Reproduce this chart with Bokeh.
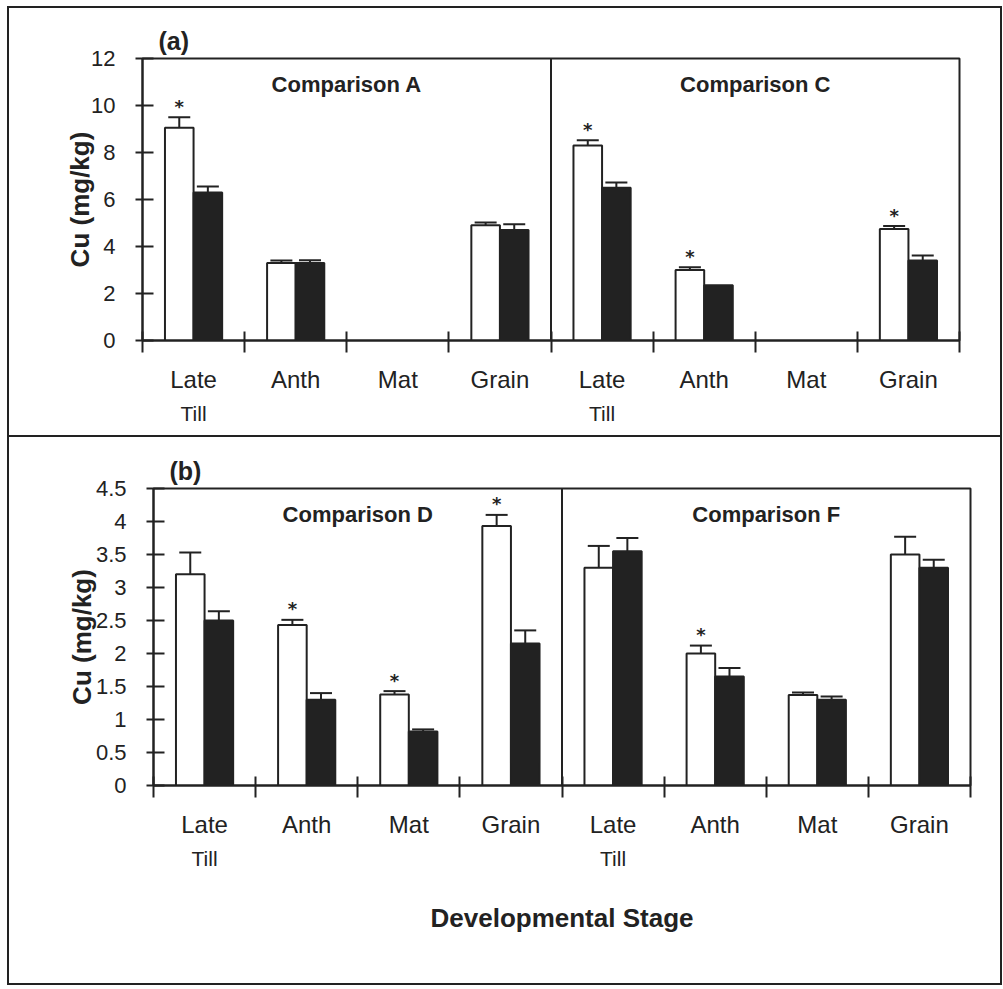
from bokeh.plotting import figure
from bokeh.models import (ColumnDataSource, FixedTicker, LinearAxis, Range1d,
                          Span, Whisker, TeeHead, Label)
from bokeh.layouts import column
from bokeh.embed import file_html
from bokeh.resources import INLINE
from bokeh.core.properties import value

# ---------------- data ----------------
stages = ["Late", "Anth", "Mat", "Grain"]
stage_sub = ["Till", "", "", ""]

# panel (a)
a_tag = "(a)"
a_comparisons = ["Comparison A", "Comparison C"]
a_white = [[9.05, 3.3, None, 4.9], [8.3, 3.0, None, 4.75]]
a_white_err = [[0.45, 0.1, None, 0.12], [0.22, 0.12, None, 0.12]]
a_black = [[6.3, 3.3, None, 4.7], [6.5, 2.35, None, 3.4]]
a_black_err = [[0.25, 0.12, None, 0.25], [0.22, 0.0, None, 0.22]]
a_star = [[True, False, False, False], [True, True, False, True]]
a_yticks = [0, 2, 4, 6, 8, 10, 12]
a_ylabels = ["0", "2", "4", "6", "8", "10", "12"]

# panel (b)
b_tag = "(b)"
b_comparisons = ["Comparison D", "Comparison F"]
b_white = [[3.2, 2.43, 1.38, 3.93], [3.3, 2.0, 1.37, 3.5]]
b_white_err = [[0.33, 0.08, 0.05, 0.17], [0.33, 0.12, 0.04, 0.27]]
b_black = [[2.5, 1.3, 0.82, 2.15], [3.55, 1.65, 1.3, 3.3]]
b_black_err = [[0.14, 0.1, 0.03, 0.2], [0.2, 0.13, 0.05, 0.12]]
b_star = [[False, True, True, True], [False, True, False, False]]
b_yticks = [0, 0.5, 1, 1.5, 2, 2.5, 3, 3.5, 4, 4.5]
b_ylabels = ["0", "0.5", "1", "1.5", "2", "2.5", "3", "3.5", "4", "4.5"]

y_title = "Cu (mg/kg)"
x_title = "Developmental Stage"

FONT = "Liberation Sans"
INK = "#222222"
BAR_W = 0.28
W = 991


def make_panel(tag, comps, white, white_err, black, black_err, stars,
               yticks, ylabels, height, borders, ylab_standoff, x_label=None):
    n_st = len(stages)
    n_cat = n_st * len(comps)
    y_max = yticks[-1]
    p = figure(width=W, height=height, output_backend="svg",
               toolbar_location=None, x_range=Range1d(0, n_cat),
               y_range=Range1d(0, y_max), title=tag,
               min_border_left=borders[0], min_border_right=borders[1],
               min_border_top=borders[2], min_border_bottom=borders[3])
    p.grid.visible = False
    p.background_fill_color = "white"
    p.border_fill_color = "white"
    p.outline_line_color = INK
    p.outline_line_width = 2

    p.title.align = "left"
    p.title.offset = 16
    p.title.standoff = 8
    p.title.text_font = FONT
    p.title.text_font_size = "25px"
    p.title.text_font_style = "bold"
    p.title.text_color = INK

    centers = [g * n_st + i + 0.5 for g in range(len(comps)) for i in range(n_st)]
    bounds = list(range(n_cat + 1))

    wx, wt, bx, bt = [], [], [], []
    ex, eu, el = [], [], []
    sx, sy = [], []
    for g in range(len(comps)):
        for i in range(n_st):
            c = g * n_st + i + 0.5
            w = white[g][i]
            b = black[g][i]
            if w is not None:
                wx.append(c - BAR_W / 2)
                wt.append(w)
                e = white_err[g][i] or 0
                if e > 0:
                    ex.append(c - BAR_W / 2); eu.append(w + e); el.append(w - e)
                if stars[g][i]:
                    sx.append(c - BAR_W / 2); sy.append(w + e)
            if b is not None:
                bx.append(c + BAR_W / 2)
                bt.append(b)
                e = black_err[g][i] or 0
                if e > 0:
                    ex.append(c + BAR_W / 2); eu.append(b + e); el.append(b - e)

    p.vbar(x=wx, top=wt, bottom=0, width=BAR_W, fill_color="white",
           line_color=INK, line_width=2)
    p.vbar(x=bx, top=bt, bottom=0, width=BAR_W, fill_color=INK,
           line_color=INK, line_width=2)

    esrc = ColumnDataSource(dict(x=ex, u=eu, l=el))
    wh = Whisker(source=esrc, base="x", upper="u", lower="l",
                 line_color=INK, line_width=2,
                 upper_head=TeeHead(size=22, line_width=2, line_color=INK),
                 lower_head=TeeHead(size=22, line_width=2, line_color=INK))
    p.add_layout(wh)

    p.text(x=sx, y=sy, text=["*"] * len(sx), text_font=value("DejaVu Sans"),
           text_font_size="18px", text_font_style="bold", text_color=INK,
           text_align="center", text_baseline="alphabetic", y_offset=-11)

    for g in range(1, len(comps)):
        p.add_layout(Span(location=g * n_st, dimension="height",
                          line_color=INK, line_width=2))

    for g, name in enumerate(comps):
        p.add_layout(Label(x=g * n_st + n_st / 2, y=y_max, y_offset=-26,
                           text=name, text_align="center",
                           text_baseline="middle", text_font=FONT,
                           text_font_size="22px", text_font_style="bold",
                           text_color=INK))

    ya = p.yaxis[0]
    ya.ticker = FixedTicker(ticks=yticks)
    ya.major_label_overrides = {t: l for t, l in zip(yticks, ylabels)}
    ya.major_tick_in = 11
    ya.major_tick_out = 7
    ya.major_tick_line_width = 2
    ya.major_tick_line_color = INK
    ya.minor_tick_line_color = None
    ya.axis_line_width = 2
    ya.axis_line_color = INK
    ya.major_label_text_font = FONT
    ya.major_label_text_font_size = "22px"
    ya.major_label_text_color = INK
    ya.major_label_standoff = 20
    ya.axis_label = y_title
    ya.axis_label_text_font = FONT
    ya.axis_label_text_font_size = "26px"
    ya.axis_label_text_font_style = "bold"
    ya.axis_label_text_color = INK
    ya.axis_label_standoff = ylab_standoff

    xa = p.xaxis[0]
    xa.ticker = FixedTicker(ticks=centers, minor_ticks=bounds)
    xa.major_label_overrides = {c: stages[k % n_st] for k, c in enumerate(centers)}
    xa.major_tick_in = 0
    xa.major_tick_out = 0
    xa.major_tick_line_color = None
    xa.minor_tick_in = 9
    xa.minor_tick_out = 12
    xa.minor_tick_line_width = 2
    xa.minor_tick_line_color = INK
    xa.axis_line_width = 2
    xa.axis_line_color = INK
    xa.major_label_text_font = FONT
    xa.major_label_text_font_size = "24px"
    xa.major_label_text_color = INK
    xa.major_label_standoff = 13

    sub_ticks = [c for k, c in enumerate(centers) if stage_sub[k % n_st]]
    sub_axis = LinearAxis(
        ticker=FixedTicker(ticks=sub_ticks),
        major_label_overrides={c: stage_sub[k % n_st] for k, c in enumerate(centers) if stage_sub[k % n_st]},
        axis_line_color=None, major_tick_line_color=None,
        minor_tick_line_color=None, major_tick_in=0, major_tick_out=0,
        major_label_standoff=6, major_label_text_font=FONT,
        major_label_text_font_size="21px", major_label_text_color=INK)
    if x_label:
        sub_axis.axis_label = x_label
        sub_axis.axis_label_text_font = FONT
        sub_axis.axis_label_text_font_size = "26px"
        sub_axis.axis_label_text_font_style = "bold"
        sub_axis.axis_label_text_color = INK
        sub_axis.axis_label_standoff = 30
    p.add_layout(sub_axis, "below")
    return p


p_top = make_panel(a_tag, a_comparisons, a_white, a_white_err, a_black,
                   a_black_err, a_star, a_yticks, a_ylabels, 427,
                   (133, 41, 50, 95), -7)
p_bot = make_panel(b_tag, b_comparisons, b_white, b_white_err, b_black,
                   b_black_err, b_star, b_yticks, b_ylabels, 546,
                   (144, 30, 51, 198), -4, x_label=x_title)

top_box = column(p_top, styles={"border": "2px solid #222", "margin-left": "7px",
                                "margin-top": "6px"})
bot_box = column(p_bot, styles={"border": "2px solid #222", "border-top": "none",
                                "margin-left": "7px"})

p = [top_box, bot_box]
open("out.html", "w").write(file_html(p, INLINE))
